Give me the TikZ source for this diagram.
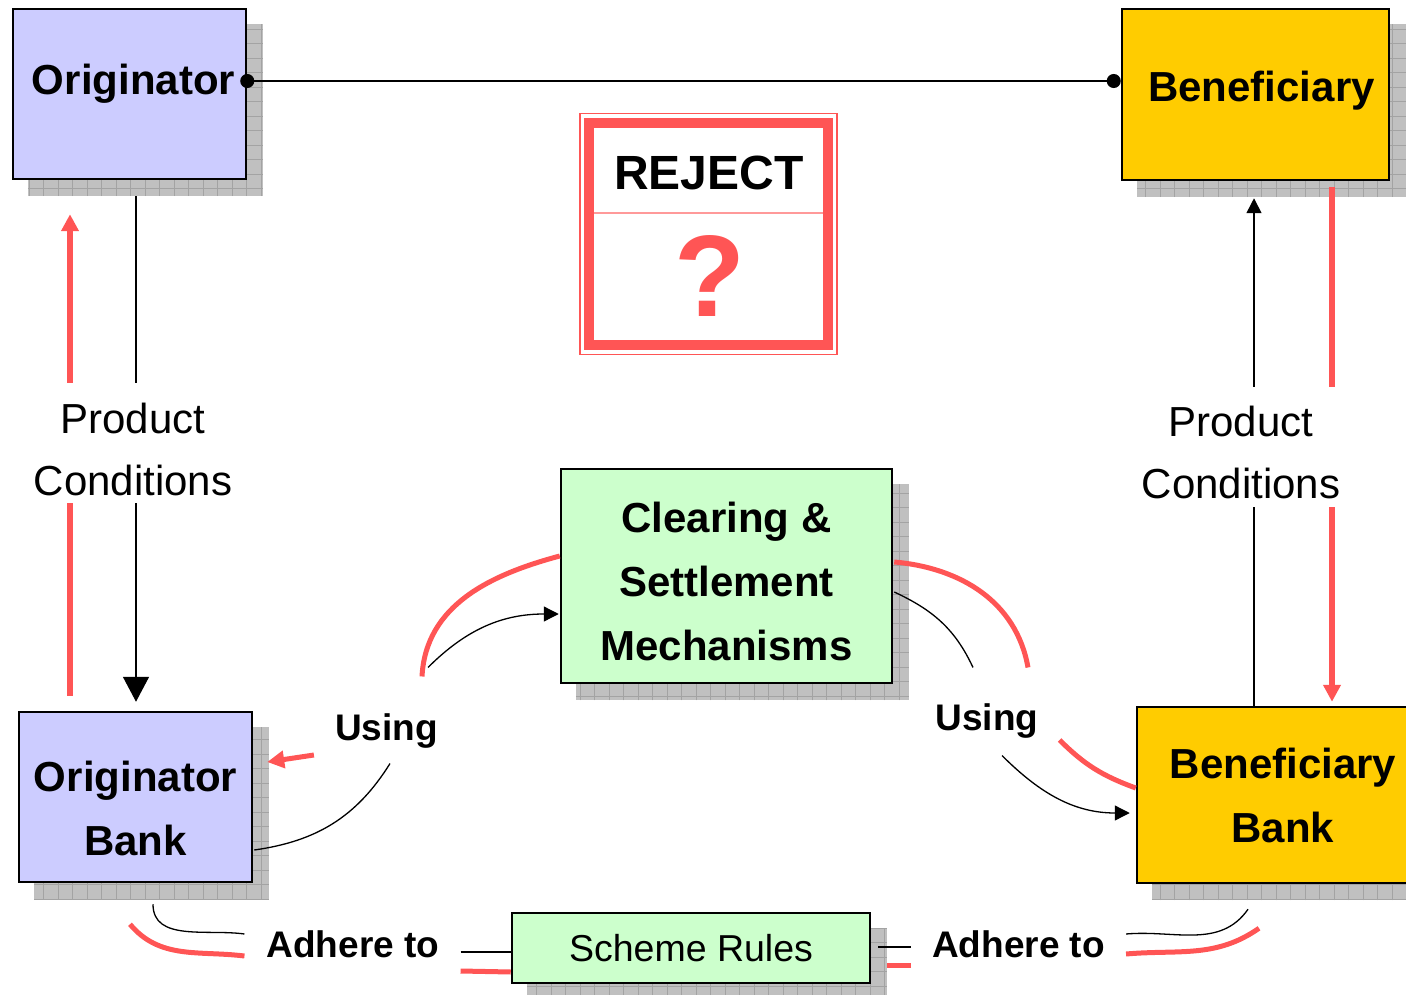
\documentclass[tikz,border=0pt]{standalone}
\usepackage{fontspec}
\setmainfont{Liberation Sans}
\usetikzlibrary{arrows.meta, positioning, calc, backgrounds}
\definecolor{origblue}{RGB}{204, 204, 255}
\definecolor{benefyellow}{RGB}{255, 204, 0}
\definecolor{mechgreen}{RGB}{204, 255, 204}
\definecolor{rejred}{RGB}{255, 85, 85}
\definecolor{shadegray}{RGB}{192, 192, 192}
\definecolor{shadeline}{RGB}{163, 163, 163}

\begin{document}
\begin{tikzpicture}[x=1pt, y=-1pt,
  partybox/.style={draw=black, line width=2.5pt, inner sep=0pt},
  boxtext/.style={font=\bfseries\fontsize{42}{64}\selectfont, align=center, inner sep=0pt},
  condtext/.style={font=\fontsize{42}{62}\selectfont, align=center, inner xsep=0pt, inner ysep=13.5pt},
  linktext/.style={font=\bfseries\fontsize{37}{37}\selectfont, inner sep=0pt},
  blkline/.style={draw=black, line width=1.6pt},
  redline/.style={draw=rejred, line width=5.5pt},
  bigtip/.style={-{Triangle[length=25pt, width=26pt]}},
  blktip/.style={-{Triangle[length=15pt, width=15pt]}},
  redtip/.style={-{Triangle[length=17pt, width=17pt]}}]
  \useasboundingbox (0,0) rectangle (1406,995);

  % Parties and banks
  \node[partybox, fill=origblue, minimum width=233pt, minimum height=170pt] (orig) at (129.5,94) {};
  \node[boxtext] (origtxt) at ([xshift=4pt, yshift=10pt]orig.center) {Originator};

  \node[partybox, fill=benefyellow, minimum width=267pt, minimum height=171pt] (benef) at (1255.5,94.5) {};
  \node[boxtext] (beneftxt) at ([xshift=6pt, yshift=4pt]benef.center) {Beneficiary};

  \node[partybox, fill=origblue, minimum width=233pt, minimum height=170pt] (origbank) at (135.5,797) {};
  \node[boxtext] (origbanktxt) at ([yshift=-11pt]origbank.center) {Originator\\Bank};

  \node[partybox, fill=benefyellow, minimum width=292pt, minimum height=176pt] (benefbank) at (1283,795) {};
  \node[boxtext] (benefbanktxt) at (benefbank.center) {Beneficiary\\Bank};

  % Clearing and scheme rules
  \node[partybox, fill=mechgreen, minimum width=331pt, minimum height=214pt] (clearing) at (726.5,576) {};
  \node[boxtext] (clearingtxt) at ([yshift=-5pt]clearing.center) {Clearing \&\\Settlement\\Mechanisms};

  \node[partybox, fill=mechgreen, minimum width=358pt, minimum height=70pt, font=\fontsize{37.5}{37.5}\selectfont] (scheme) at (691,948) {Scheme Rules};

  % Shadows
  \begin{scope}[on background layer]
    \foreach \n in {orig, benef, origbank, benefbank, clearing, scheme} {
      \fill[shadegray] ($(\n.south west)+(16,16)$) rectangle ($(\n.north east)+(16,16)$);
      \draw[shadeline, line width=0.8pt, step=14.5pt] ($(\n.south west)+(16,16)$) grid ($(\n.north east)+(16,16)$);
    }
  \end{scope}

  % Reject sign
  \node[draw=rejred, line width=1.5pt, minimum width=257pt, minimum height=241pt] (reject) at (708.5,234) {};
  \draw[rejred, line width=10pt] ($(reject.north west)+(10,10)$) rectangle ($(reject.south east)+(-10,-10)$);
  \draw[rejred!60, line width=1.5pt] ($(reject.west)+(15,-21)$) -- ($(reject.east)+(-15,-21)$);
  \node[font=\bfseries\fontsize{48}{48}\selectfont] (rejtitle) at (709,173) {REJECT};
  \node[text=rejred, font=\bfseries\fontsize{116}{116}\selectfont] (rejmark) at (710,276) {?};

  % Top link
  \draw[blkline, {Circle[length=14pt]}-{Circle[length=14pt]}, shorten <=-7pt] ($(orig.east)+(0,-13)$) -- ($(benef.west)+(0,-13.5)$);

  % Product conditions
  \node[condtext] (condL) at (133,449) {Product\\Conditions};
  \node[condtext] (condR) at (1241,452) {Product\\Conditions};

  \draw[blkline] ($(orig.south)+(6.5,16)$) -- ($(condL.north)+(3,-6)$);
  \draw[blkline, bigtip] ($(condL.south)+(3,-6)$) -- ($(origbank.north)+(0.5,-9)$);
  \draw[redline, redtip] ($(condL.north)+(-63,-6)$) -- ($(orig.south)+(-59.5,34)$);
  \draw[redline] ($(origbank.north)+(-65.5,-15)$) -- ($(condL.south)+(-63,-6)$);

  \draw[blkline, blktip] ($(condR.north)+(13,-5)$) -- ($(benef.south)+(-1.5,17)$);
  \draw[blkline] ($(benefbank.north)+(-29,0)$) -- ($(condR.south)+(13,-5)$);
  \draw[redline] ($(benef.south)+(76.5,6)$) -- ($(condR.north)+(91,-5)$);
  \draw[redline, redtip] ($(condR.south)+(91,-5)$) -- ($(benefbank.north)+(49,-4)$);

  % Using
  \node[linktext] (useL) at (386.5,731) {Using};
  \node[linktext] (useR) at (987,721) {Using};

  \draw[blkline, line width=1.3pt] ($(origbank.east)+(1,53)$) to[out=8, in=-122] ($(useL.south)+(3.5,15)$);
  \draw[blkline, line width=1.3pt, blktip] ($(useL.north)+(41.5,-46)$) to[out=45, in=180] ($(clearing.west)+(-1,38)$);
  \draw[redline, line width=5pt] ($(clearing.west)+(0,-20)$) to[out=195, in=87] ($(useL.north)+(35.5,-37)$);
  \draw[redline, line width=5pt, redtip] ($(useL.west)+(-21,24)$) -- ($(origbank.east)+(14,-35)$);

  \draw[blkline, line width=1.3pt] ($(clearing.east)+(1,16)$) to[out=-25, in=115] ($(useR.north)+(-14,-36)$);
  \draw[blkline, line width=1.3pt, blktip] ($(useR.south)+(15,17)$) to[out=-45, in=180] ($(benefbank.west)+(-6,18)$);
  \draw[redline, line width=5pt] ($(clearing.east)+(1,-14)$) to[out=-5, in=100] ($(useR.north)+(41,-36)$);
  \draw[redline, line width=5pt] ($(useR.east)+(21,19)$) to[out=-45, in=160] ($(benefbank.west)+(0,-7)$);

  % Adhere to
  \node[linktext] (adhL) at (353,944) {Adhere to};
  \node[linktext] (adhR) at (1018.5,944) {Adhere to};

  \draw[blkline, line width=1.3pt] ($(origbank.south)+(17.5,21)$) to[out=-90, in=172] ($(adhL.west)+(-22,-10)$);
  \draw[blkline, line width=1.3pt] ($(adhL.east)+(21,8)$) -- ($(scheme.west)+(0,4)$);
  \draw[redline, line width=5pt] ($(origbank.south)+(-5.5,41)$) to[out=-50, in=173] ($(adhL.west)+(-22,12)$);
  \draw[redline, line width=5pt] ($(adhL.east)+(21,27)$) -- ($(scheme.west)+(0,24)$);

  \draw[blkline, line width=1.3pt] ($(scheme.east)+(7,-1)$) -- ($(adhR.west)+(-21,3)$);
  \draw[redline, line width=5pt] ($(scheme.east)+(16,17)$) -- ($(adhR.west)+(-21,21)$);
  \draw[blkline, line width=1.3pt] ($(adhR.east)+(21,-10)$) to[out=5, in=-125] ($(benefbank.south)+(-35,25)$);
  \draw[redline, line width=5pt] ($(adhR.east)+(21,10)$) to[out=5, in=-145] ($(benefbank.south)+(-24,44)$);
\end{tikzpicture}
\end{document}
